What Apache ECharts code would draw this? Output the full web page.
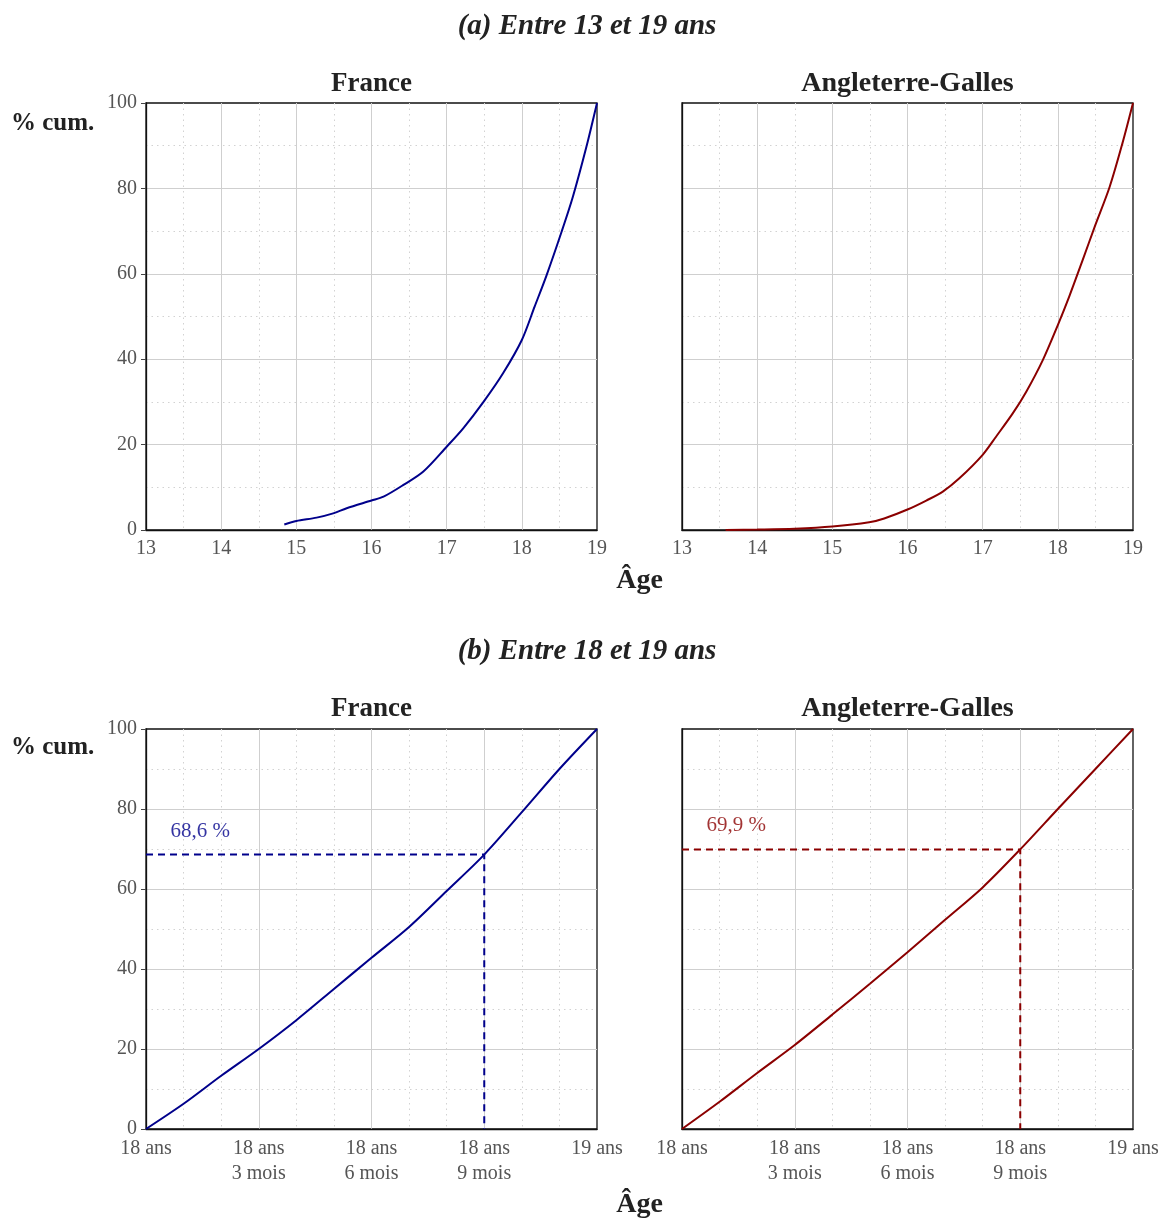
<!DOCTYPE html>
<html><head><meta charset="utf-8">
<script src="https://cdn.jsdelivr.net/npm/echarts@6/dist/echarts.min.js"></script>
<style>html,body{margin:0;padding:0;background:#fff}#c{width:1164px;height:1218px}</style>
</head><body><div id="c"></div>
<script>
// ---- data ----
const frAgeA = [14.84,15.0,15.27,15.49,15.67,16.0,16.16,16.42,16.69,17.0,17.22,17.49,17.75,18.0,18.17,18.33,18.53,18.68,18.86,19.0];
const frCumA = [1.3,2.1,2.9,3.9,5.1,6.9,7.8,10.5,13.7,19.5,23.8,30.0,36.7,44.5,52.3,59.7,69.9,78.1,89.8,100];
const ewAgeA = [13.58,14.0,14.5,15.0,15.49,15.69,16.0,16.25,16.47,16.69,17.0,17.18,17.4,17.58,17.8,18.0,18.15,18.33,18.49,18.69,18.86,19.0];
const ewCumA = [0,0.1,0.3,0.8,1.8,2.7,4.8,6.9,9.0,12.1,17.6,21.9,27.3,32.4,39.8,48.0,54.6,63.2,71.0,80.4,90.6,100];
const monthsB = [0,1,2,3,4,5,6,7,8,9,10,11,12];
const frCumB = [0,6.3,13.3,20.0,27.2,35.0,42.8,50.5,59.5,68.6,79.2,90.0,100];
const ewCumB = [0,6.8,14.0,21.0,28.6,36.3,44.2,52.3,60.4,69.9,80.0,90.0,100];
const markMonth = 9;
const frAt9 = 68.6, ewAt9 = 69.9;
const xTicksB = {0:'18 ans',3:'18 ans\n3 mois',6:'18 ans\n6 mois',9:'18 ans\n9 mois',12:'19 ans'};
const panelTitles = ['(a) Entre 13 et 19 ans','(b) Entre 18 et 19 ans'];
const countries = ['France','Angleterre-Galles'];

const FONT = '"Liberation Serif", "DejaVu Serif", serif';
const BLUE = '#00008B', RED = '#8B0000';
const pairs = (xs, ys) => xs.map((x,i)=>[x, ys[i]]);

const grids = [
  {left:146, top:103, width:451, height:427},
  {left:682, top:103, width:451, height:427},
  {left:146, top:729, width:451, height:400},
  {left:682, top:729, width:451, height:400}
].map(g => Object.assign(g, {show:true, borderColor:'#111', borderWidth:1.3, backgroundColor:'transparent'}));

const gridLine = {show:true, showMinLine:false, showMaxLine:false, lineStyle:{color:'#cfcfcf', width:1}};
const minorLine = {show:true, lineStyle:{color:'#d2d2d2', width:1, type:[1.5,4]}};
const axLine = {show:true, lineStyle:{color:'#111', width:1.3}};
const lbl = {color:'#555', fontFamily:FONT, fontSize:20};

function xAxisTop(i){ return {type:'value', gridIndex:i, min:13, max:19, interval:1,
  axisLine:axLine, axisTick:{show:false}, axisLabel:Object.assign({margin:9}, lbl),
  splitLine:gridLine, minorTick:{show:false, splitNumber:2}, minorSplitLine:minorLine}; }
function xAxisBot(i){ return {type:'value', gridIndex:i, min:0, max:12, interval:3,
  axisLine:axLine, axisTick:{show:false},
  axisLabel:Object.assign({margin:7, lineHeight:25, formatter:v=>xTicksB[v]||''}, lbl),
  splitLine:gridLine, minorTick:{show:false, splitNumber:3}, minorSplitLine:minorLine}; }
function yAxis(i, showLabels){ return {type:'value', gridIndex:i, min:0, max:100, interval:20,
  axisLine:axLine, axisTick:{show:showLabels, length:5, lineStyle:{color:'#444'}},
  axisLabel:Object.assign({show:showLabels, margin:9}, lbl),
  splitLine:gridLine, minorTick:{show:false, splitNumber:2}, minorSplitLine:minorLine}; }

function lineS(i, data, color){ return {type:'line', xAxisIndex:i, yAxisIndex:i, data, showSymbol:false,
  symbol:'none', lineStyle:{color, width:2}, smooth:0.3, z:5}; }
function dashS(i, val, color){ return {type:'line', xAxisIndex:i, yAxisIndex:i,
  data:[[0,val],[markMonth,val],[markMonth,0]], symbol:'none', lineStyle:{color, width:2, type:[7,5]}, z:4}; }
function annot(i, val, color){ return {type:'scatter', xAxisIndex:i, yAxisIndex:i,
  data:[[0.65, val+5.9]], symbolSize:0, silent:true,
  label:{show:true, position:'right', distance:0, color, fontFamily:FONT, fontSize:21,
    formatter:()=>val.toFixed(1).replace('.',',')+' %'}}; }

const bold = {fontFamily:FONT, fontWeight:'bold', fontSize:27, fill:'#222'};
const graphics = [];
panelTitles.forEach((t,k)=>graphics.push({type:'text', x:587, y:[27,652][k],
  style:Object.assign({}, bold, {text:t, fontStyle:'italic', fontSize:29, align:'center', verticalAlign:'middle'})}));
[0,1].forEach(r=>{
  countries.forEach((c,j)=>graphics.push({type:'text', x:[371.5,907.5][j], y:[84,709][r],
    style:Object.assign({}, bold, {text:c, align:'center', verticalAlign:'middle', fontSize:[27,28][j]})}));
  graphics.push({type:'text', x:11, y:[124,748][r], style:Object.assign({}, bold, {text:'% cum.', fontSize:25, verticalAlign:'middle'})});
  graphics.push({type:'text', x:639.5, y:[581,1205][r], style:Object.assign({}, bold, {text:'Âge', align:'center', verticalAlign:'middle', fontSize:28})});
});

const chart = echarts.init(document.getElementById('c'), null, {renderer:'canvas'});
chart.setOption({
  animation:false,
  backgroundColor:'#fff',
  grid:grids,
  xAxis:[xAxisTop(0), xAxisTop(1), xAxisBot(2), xAxisBot(3)],
  yAxis:[yAxis(0,true), yAxis(1,false), yAxis(2,true), yAxis(3,false)],
  series:[
    lineS(0, pairs(frAgeA, frCumA), BLUE),
    lineS(1, pairs(ewAgeA, ewCumA), RED),
    lineS(2, pairs(monthsB, frCumB), BLUE),
    lineS(3, pairs(monthsB, ewCumB), RED),
    dashS(2, frAt9, BLUE), dashS(3, ewAt9, RED),
    annot(2, frAt9, BLUE), annot(3, ewAt9, RED)
  ],
  graphic:graphics
});
</script></body></html>
